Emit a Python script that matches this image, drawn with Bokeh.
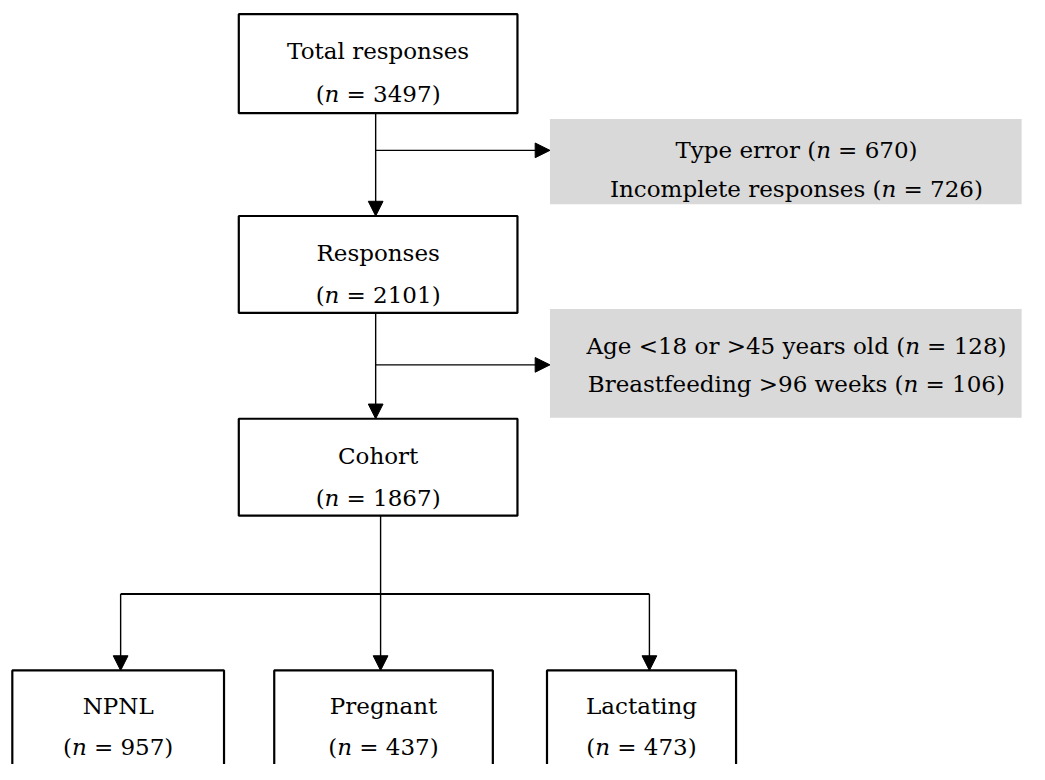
from bokeh.plotting import figure
from bokeh.models import Range1d, ColumnDataSource
from bokeh.core.properties import value
from bokeh.embed import file_html
from bokeh.resources import INLINE

# ---------------- data ----------------
main_labels = ["Total responses", "Responses", "Cohort"]
main_n = [3497, 2101, 1867]
excl_labels = [["Type error", "Incomplete responses"],
               ["Age <18 or >45 years old", "Breastfeeding >96 weeks"]]
excl_n = [[670, 726], [128, 106]]
group_labels = ["NPNL", "Pregnant", "Lactating"]
group_n = [957, 437, 473]

# ---------------- layout (reference pixels) ----------------
W, H = 1029, 764          # figure size on the page
RW, RH = 1045, 780        # layout coordinate space
XS = RW / W               # data units per screen pixel
FONT = "DejaVu Serif"
FS = 23

main_left, main_right = 242, 525
main_tops = [14, 220, 427]
main_bottoms = [115, 319, 526]
stem_x = [381, 381, 386]

excl_left, excl_right = 558, 1037
excl_tops = [121, 315]
excl_bottoms = [208, 426]
excl_branch_y = [153, 372]
excl_text_y = [[153, 192], [353, 392]]
excl_cx = 808

grp_left = [12, 278, 555]
grp_right = [227, 500, 747]
grp_top = 684
grp_bottom = 820
grp_arrow_x = [122, 386, 659]
split_y = 606

HEAD = 15  # arrowhead length
HALF = 7.5

# approximate DejaVu Serif advance widths (units / 2048)
WID = {' ': 651, '(': 799, ')': 799, '=': 1716, '<': 1716, '>': 1716,
       'T': 1374, 'y': 1210, 'p': 1314, 'e': 1214, 'r': 979, 'o': 1233,
       'I': 823, 'n': 1320, 'c': 1145, 'm': 1981, 'l': 657, 't': 823,
       's': 1047, 'A': 1483, 'g': 1314, 'a': 1221, 'd': 1314, 'B': 1511,
       'f': 758, 'i': 657, 'k': 1264, 'w': 1753}
for d in "0123456789":
    WID[d] = 1303


def tw(s):
    return sum(WID.get(ch, 1250) for ch in s) / 2048 * FS * XS


N_IT_W = 1300 / 2048 * FS * XS
SP_W = 651 / 2048 * FS * XS

p = figure(width=W, height=H, x_range=Range1d(0, RW), y_range=Range1d(RH, 0),
           output_backend="svg", toolbar_location=None, min_border=0,
           x_axis_type=None, y_axis_type=None)
p.grid.visible = False
p.outline_line_color = None
p.background_fill_color = "white"

# ---------------- boxes ----------------
p.quad(left=[excl_left] * 2, right=[excl_right] * 2, top=excl_tops, bottom=excl_bottoms,
       fill_color="#d9d9d9", line_color=None)
p.quad(left=[main_left] * 3, right=[main_right] * 3, top=main_tops, bottom=main_bottoms,
       fill_color="white", line_color="black", line_width=2.2)
p.quad(left=grp_left, right=grp_right, top=[grp_top] * 3, bottom=[grp_bottom] * 3,
       fill_color="white", line_color="black", line_width=2.2)

# ---------------- connectors ----------------
x0s, y0s, x1s, y1s = [], [], [], []
heads_x, heads_y = [], []


def down_arrow(x, y0, tip):
    x0s.append(x); y0s.append(y0); x1s.append(x); y1s.append(tip - HEAD + 1)
    heads_x.append([x - HALF, x + HALF, x]); heads_y.append([tip - HEAD, tip - HEAD, tip])


def right_arrow(y, x0, tip):
    x0s.append(x0); y0s.append(y); x1s.append(tip - HEAD + 1); y1s.append(y)
    heads_x.append([tip - HEAD, tip - HEAD, tip]); heads_y.append([y - HALF, y + HALF, y])


for i in range(2):
    down_arrow(stem_x[i], main_bottoms[i], main_tops[i + 1])
    right_arrow(excl_branch_y[i], stem_x[i], excl_left)

# cohort stem and split
x0s.append(stem_x[2]); y0s.append(main_bottoms[2]); x1s.append(stem_x[2]); y1s.append(split_y)
for gx in grp_arrow_x:
    down_arrow(gx, split_y, grp_top)

p.segment(x0=x0s, y0=y0s, x1=x1s, y1=y1s, line_color="black", line_width=1.4)
p.segment(x0=[min(grp_arrow_x)], y0=[split_y], x1=[max(grp_arrow_x)], y1=[split_y],
          line_color="black", line_width=2)
p.patches(xs=heads_x, ys=heads_y, fill_color="black", line_color="black", line_width=1)

# ---------------- texts ----------------
plain = {"x": [], "y": [], "t": []}
pre = {"x": [], "y": [], "t": []}
suf = {"x": [], "y": [], "t": []}
ital = {"x": [], "y": [], "t": []}


def rich(cx, cy, prefix, nval):
    suffix = "= %d)" % nval
    wa, wc = tw(prefix), tw(suffix)
    total = wa + N_IT_W + SP_W + wc
    xn = cx - total / 2 + wa
    pre["x"].append(xn); pre["y"].append(cy); pre["t"].append(prefix)
    ital["x"].append(xn); ital["y"].append(cy); ital["t"].append("n")
    suf["x"].append(xn + N_IT_W + SP_W); suf["y"].append(cy); suf["t"].append(suffix)


mcx = (main_left + main_right) / 2
for lab, n, top in zip(main_labels, main_n, main_tops):
    plain["x"].append(mcx); plain["y"].append(top + 38); plain["t"].append(lab)
    rich(mcx, top + 81, "(", n)

for labs, ns, ys in zip(excl_labels, excl_n, excl_text_y):
    for lab, n, y in zip(labs, ns, ys):
        rich(excl_cx, y, lab + " (", n)

for lab, n, l, r in zip(group_labels, group_n, grp_left, grp_right):
    cx = (l + r) / 2
    plain["x"].append(cx); plain["y"].append(720); plain["t"].append(lab)
    rich(cx, 762, "(", n)

common = dict(text_font=value(FONT), text_font_size="%dpx" % FS, text_color="black",
              text_baseline="middle")
p.text(x="x", y="y", text="t", source=ColumnDataSource(plain), text_align="center", **common)
p.text(x="x", y="y", text="t", source=ColumnDataSource(pre), text_align="right", **common)
p.text(x="x", y="y", text="t", source=ColumnDataSource(suf), text_align="left", **common)
p.text(x="x", y="y", text="t", source=ColumnDataSource(ital), text_align="left",
       text_font_style="italic", **common)

open("out.html", "w").write(file_html(p, INLINE))
